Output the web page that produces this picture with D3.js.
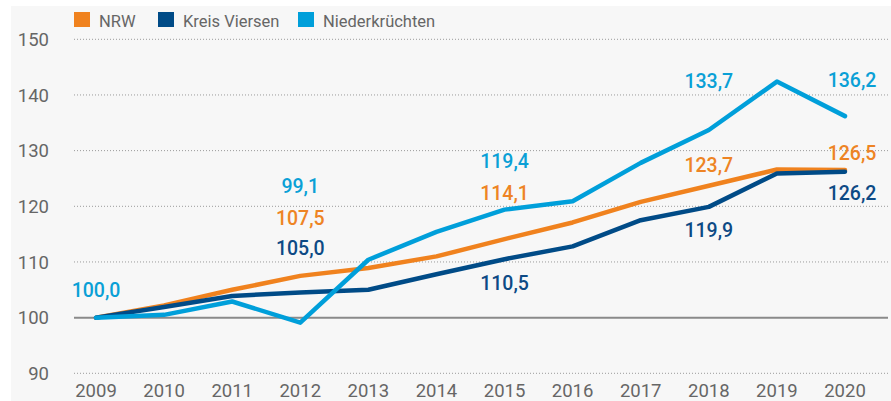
<!DOCTYPE html>
<html>
<head>
<meta charset="utf-8">
<script src="https://cdn.jsdelivr.net/npm/d3@7"></script>
<style>
  body { margin: 0; background: #fff; }
  text { font-family: Roboto, "Open Sans", sans-serif; }
</style>
</head>
<body>
<div id="wrapper"></div>
<script>
// data
const years = [2009, 2010, 2011, 2012, 2013, 2014, 2015, 2016, 2017, 2018, 2019, 2020]
const nrw = [100, 102.2, 105.0, 107.5, 108.9, 111.0, 114.1, 117.1, 120.8, 123.7, 126.6, 126.5]
const kreisViersen = [100, 101.9, 103.9, 104.5, 105.0, 107.8, 110.5, 112.8, 117.5, 119.9, 125.9, 126.2]
const niederkruechten = [100, 100.5, 102.9, 99.1, 110.4, 115.4, 119.4, 120.9, 127.8, 133.7, 142.4, 136.2]
const seriesNames = ["NRW", "Kreis Viersen", "Niederkrüchten"]
const yTicks = [90, 100, 110, 120, 130, 140, 150]

// value labels: year, series index, shown value, label height (in index units)
const labelYears = [2009, 2012, 2012, 2012, 2015, 2015, 2015, 2018, 2018, 2018, 2020, 2020, 2020]
const labelSeries = [2, 2, 0, 1, 2, 0, 1, 2, 0, 1, 2, 0, 1]
const labelValues = [100.0, 99.1, 107.5, 105.0, 119.4, 114.1, 110.5, 133.7, 123.7, 119.9, 136.2, 126.5, 126.2]
const labelAt = [103.7, 122.3, 116.6, 111.2, 126.9, 121.2, 105.0, 141.3, 126.1, 114.5, 141.5, 128.4, 121.2]

const colors = ["#f0821e", "#004b87", "#009fda"]
const labelColors = ["#ee8424", "#0d4a85", "#0aa0d6"]

function drawChart() {
    const dimensions = { width: 891, height: 401 }

    const svg = d3.select("#wrapper")
        .append("svg")
        .attr("width", dimensions.width)
        .attr("height", dimensions.height)

    // grey panel
    svg.append("rect")
        .attr("x", 11).attr("y", 6)
        .attr("width", dimensions.width - 11)
        .attr("height", dimensions.height - 6)
        .attr("fill", "#f7f7f7")

    const xScale = d3.scalePoint()
        .domain(years)
        .range([96, 845])

    const yScale = d3.scaleLinear()
        .domain([90, 150])
        .range([373.3, 39.3])

    // grid lines
    svg.append("g").selectAll("line")
        .data(yTicks)
        .join("line")
        .attr("x1", 74).attr("x2", 888)
        .attr("y1", d => yScale(d)).attr("y2", d => yScale(d))
        .attr("stroke", d => d === 100 ? "#8a8a8a" : "#9a9a9a")
        .attr("stroke-width", d => d === 100 ? 2 : 1)
        .attr("stroke-dasharray", d => d === 100 ? null : "1,2")

    // y tick labels
    svg.append("g").selectAll("text")
        .data(yTicks)
        .join("text")
        .attr("x", 49)
        .attr("y", d => yScale(d))
        .attr("dy", "0.36em")
        .attr("text-anchor", "end")
        .attr("font-size", 18.5)
        .attr("fill", "#666")
        .text(d => d)

    // x tick labels
    svg.append("g").selectAll("text")
        .data(years)
        .join("text")
        .attr("x", d => xScale(d))
        .attr("y", 397)
        .attr("text-anchor", "middle")
        .attr("font-size", 18.5)
        .attr("fill", "#666")
        .text(d => d)

    // lines
    const allSeries = [nrw, kreisViersen, niederkruechten]
    const line = d3.line()
        .x((d, i) => xScale(years[i]))
        .y(d => yScale(d))

    svg.append("g").selectAll("path")
        .data(allSeries)
        .join("path")
        .attr("d", d => line(d))
        .attr("fill", "none")
        .attr("stroke", (d, i) => colors[i])
        .attr("stroke-width", 4.5)
        .attr("stroke-linejoin", "round")
        .attr("stroke-linecap", "round")

    // value labels
    const de = d3.formatLocale({ decimal: ",", thousands: ".", grouping: [3], currency: ["", " €"] })
    const fmt = de.format(".1f")
    svg.append("g").selectAll("text")
        .data(labelValues)
        .join("text")
        .attr("x", (d, i) => xScale(labelYears[i]) + (labelYears[i] === 2020 ? 7 : 0))
        .attr("y", (d, i) => yScale(labelAt[i]))
        .attr("text-anchor", "middle")
        .attr("font-size", 19.5)
        .attr("font-weight", 500)
        .attr("fill", (d, i) => labelColors[labelSeries[i]])
        .text(d => fmt(d))

    // legend
    const legendX = [74, 158, 298]
    const legend = svg.append("g").selectAll("g")
        .data(seriesNames)
        .join("g")
        .attr("transform", (d, i) => `translate(${legendX[i]},12)`)

    legend.append("rect")
        .attr("width", 16).attr("height", 15)
        .attr("fill", (d, i) => colors[i])

    legend.append("text")
        .attr("x", 25).attr("y", 15)
        .attr("font-size", 16.5)
        .attr("fill", "#666")
        .text(d => d)
}

drawChart()
</script>
</body>
</html>
